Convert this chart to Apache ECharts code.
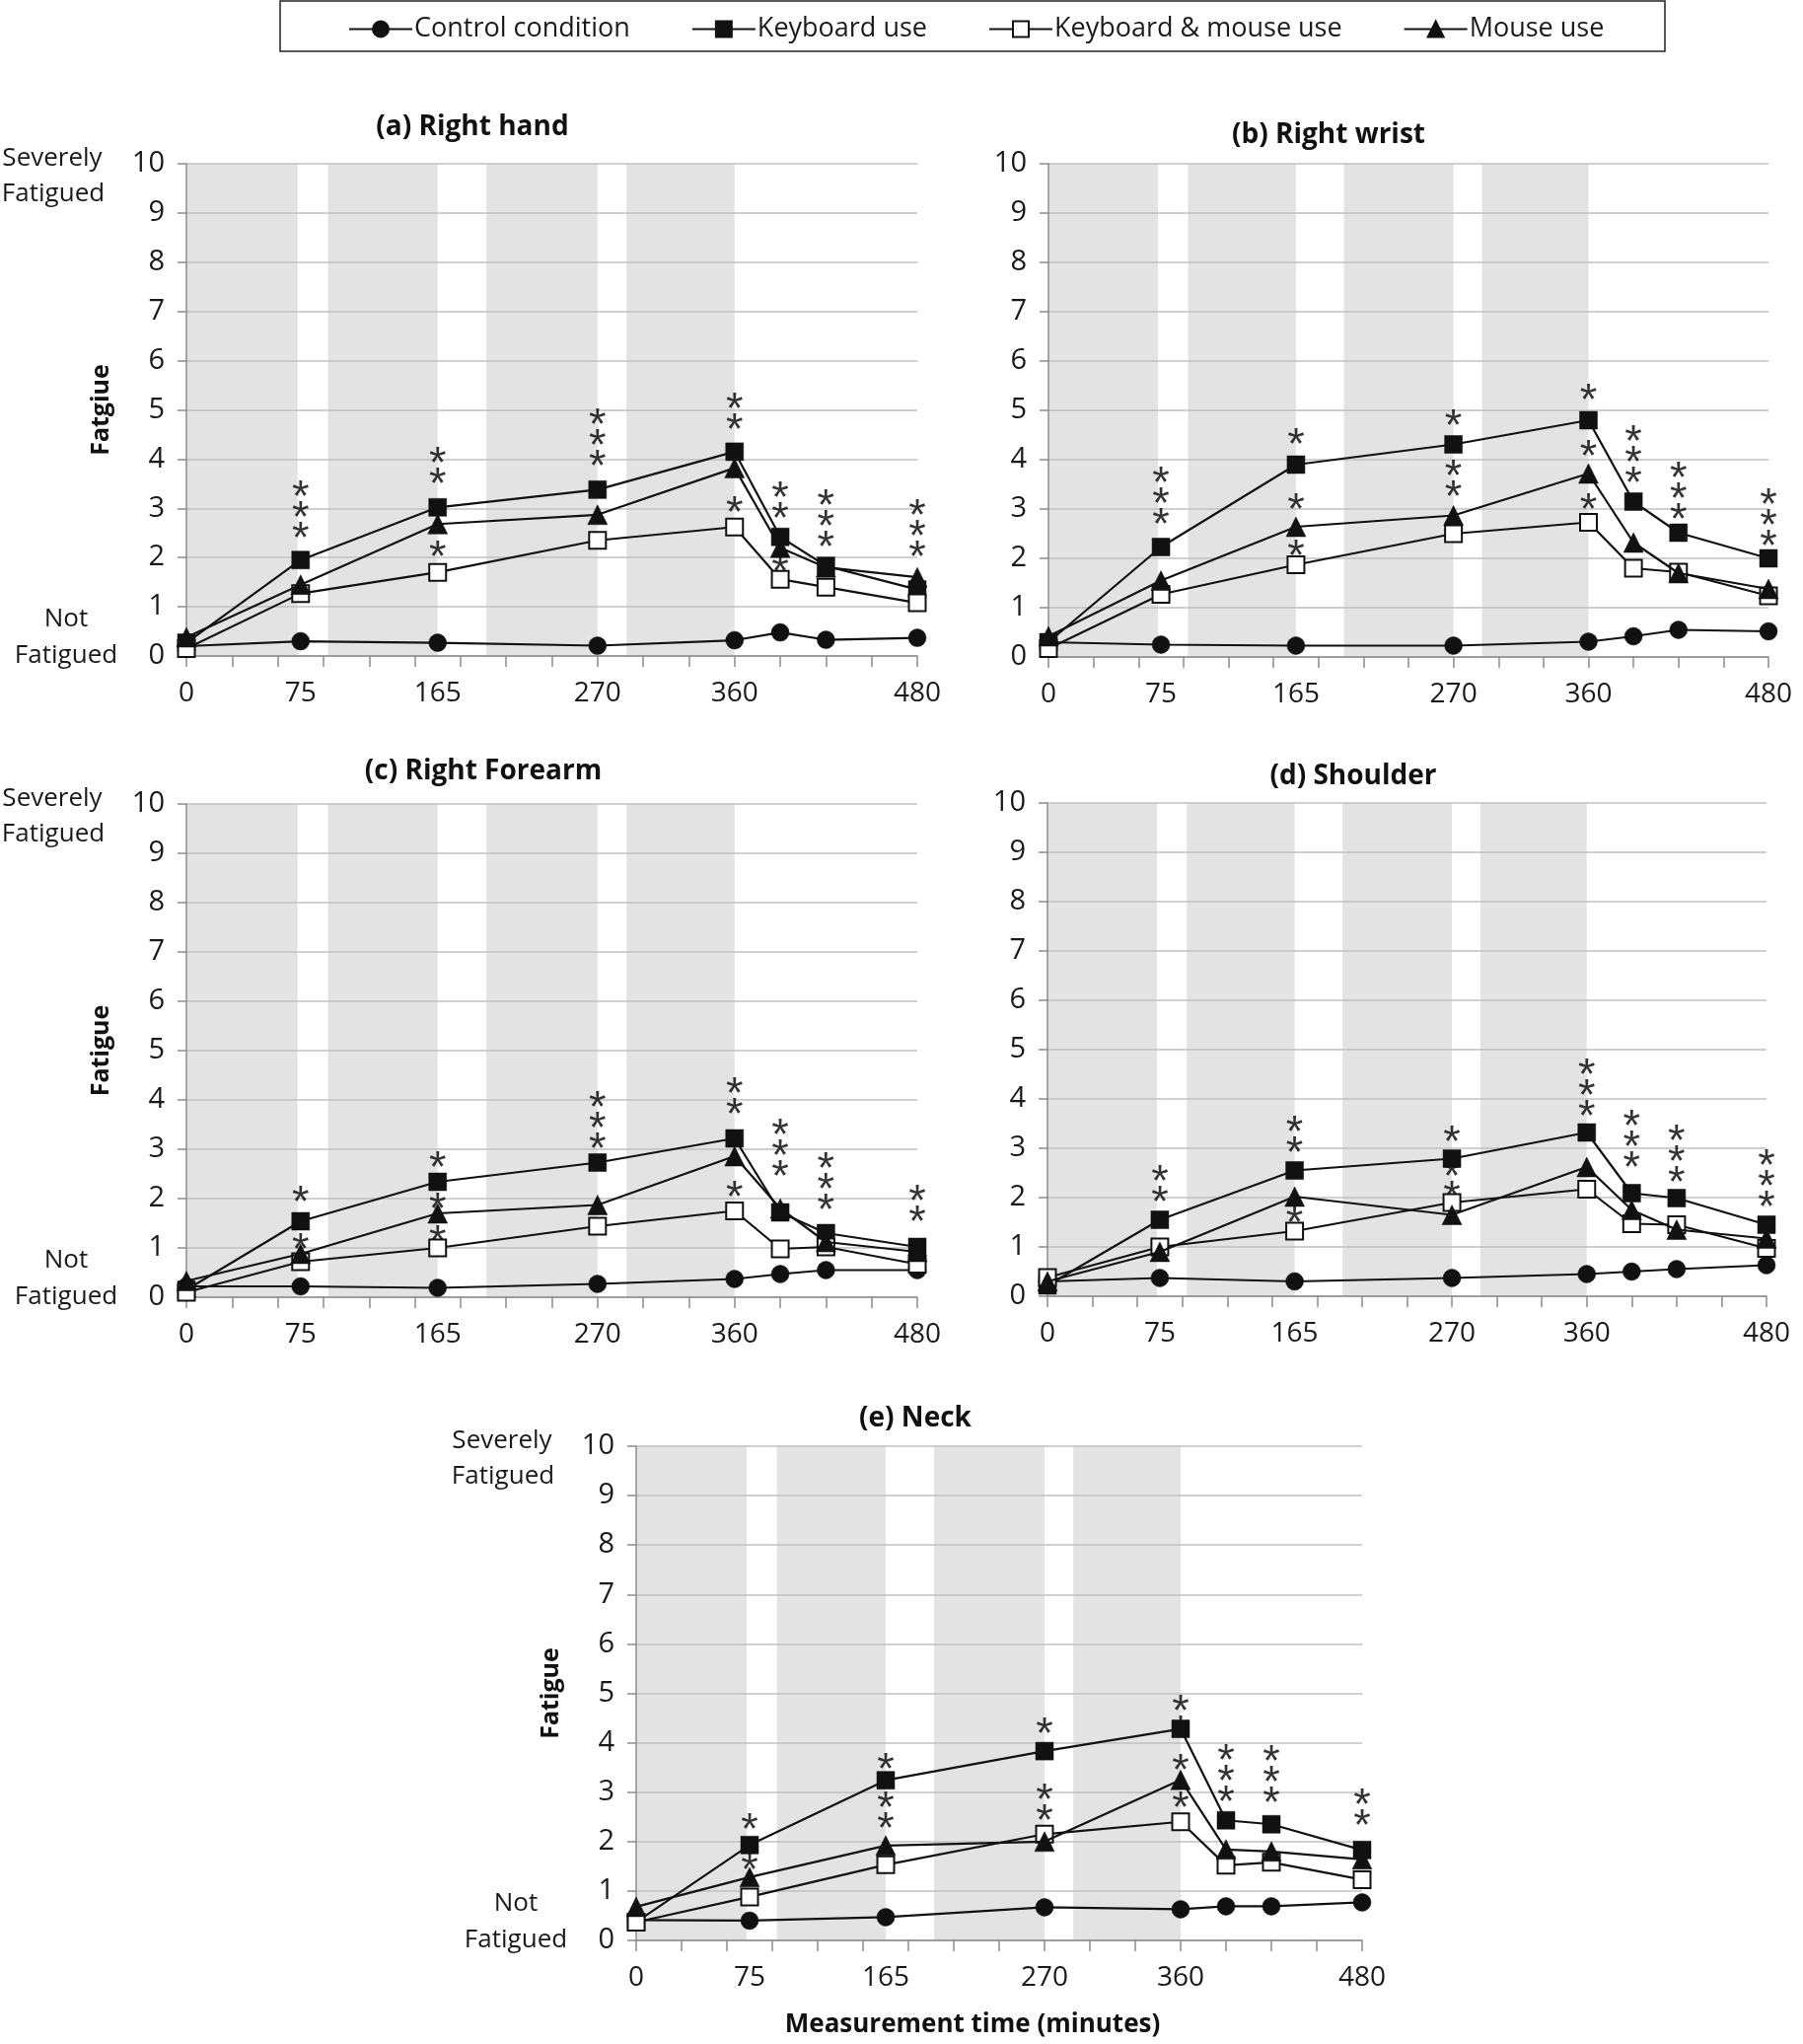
<!DOCTYPE html>
<html><head><meta charset="utf-8">
<script src="https://cdn.jsdelivr.net/npm/echarts@6/dist/echarts.min.js"></script>
<style>html,body{margin:0;padding:0;background:#fff}#c{width:1828px;height:2072px}</style>
</head><body><div id="c"></div>
<script>
// ---- data ----
const times = [0, 75, 165, 270, 360, 390, 420, 480];
const tickLabels = [0, 75, 165, 270, 360, 480];
const workPeriods = [[0, 73], [93, 165], [197, 270], [289, 360]];
const seriesNames = ['Control condition', 'Keyboard use', 'Keyboard & mouse use', 'Mouse use'];

const ctrlA = [0.2, 0.3, 0.27, 0.21, 0.32, 0.48, 0.33, 0.37];
const kbA   = [0.27, 1.95, 3.02, 3.38, 4.15, 2.42, 1.83, 1.35];
const kmA   = [0.15, 1.27, 1.7, 2.35, 2.62, 1.56, 1.4, 1.08];
const msA   = [0.38, 1.45, 2.68, 2.87, 3.82, 2.2, 1.8, 1.6];
const sigA  = [[75, 2.6, 3], [165, 3.7, 2], [165, 2.23, 1], [270, 4.07, 3], [360, 4.8, 2], [360, 3.13, 1], [390, 3.0, 2], [390, 1.93, 1], [420, 2.43, 3], [480, 2.23, 3]];

const ctrlB = [0.3, 0.25, 0.23, 0.23, 0.31, 0.42, 0.55, 0.52];
const kbB   = [0.3, 2.23, 3.9, 4.31, 4.8, 3.15, 2.52, 2.0];
const kmB   = [0.17, 1.27, 1.87, 2.5, 2.73, 1.8, 1.72, 1.24];
const msB   = [0.42, 1.55, 2.64, 2.87, 3.72, 2.32, 1.7, 1.38];
const sigB  = [[75, 2.89, 3], [165, 4.52, 1], [165, 3.19, 1], [165, 2.25, 1], [270, 4.89, 1], [270, 3.45, 2], [360, 5.42, 1], [360, 4.27, 1], [360, 3.2, 1], [390, 3.73, 3], [420, 2.99, 3], [480, 2.45, 3]];

const ctrlC = [0.22, 0.22, 0.19, 0.27, 0.37, 0.47, 0.55, 0.55];
const kbC   = [0.15, 1.54, 2.34, 2.73, 3.22, 1.72, 1.3, 1.02];
const kmC   = [0.1, 0.72, 1.0, 1.44, 1.75, 0.98, 1.02, 0.67];
const msC   = [0.33, 0.88, 1.7, 1.87, 2.86, 1.8, 1.12, 0.92];
const sigC  = [[75, 2.14, 1], [75, 1.18, 1], [165, 2.83, 1], [165, 2.0, 1], [165, 1.34, 1], [270, 3.21, 3], [360, 3.92, 2], [360, 2.24, 1], [390, 2.65, 3], [420, 1.97, 3], [480, 1.74, 2]];

const ctrlD = [0.3, 0.37, 0.3, 0.37, 0.45, 0.5, 0.55, 0.63];
const kbD   = [0.22, 1.55, 2.55, 2.79, 3.32, 2.09, 1.99, 1.45];
const kmD   = [0.38, 1.0, 1.32, 1.9, 2.17, 1.47, 1.45, 0.97];
const msD   = [0.3, 0.9, 2.02, 1.65, 2.62, 1.75, 1.35, 1.17];
const sigD  = [[75, 2.12, 2], [165, 3.12, 2], [165, 1.69, 1], [270, 3.34, 1], [270, 2.22, 2], [360, 3.85, 3], [390, 2.82, 3], [420, 2.52, 3], [480, 2.02, 3]];

const ctrlE = [0.41, 0.4, 0.47, 0.67, 0.63, 0.69, 0.69, 0.77];
const kbE   = [0.37, 1.93, 3.24, 3.83, 4.28, 2.43, 2.35, 1.83];
const kmE   = [0.37, 0.88, 1.53, 2.15, 2.4, 1.52, 1.58, 1.23];
const msE   = [0.68, 1.28, 1.92, 2.0, 3.25, 1.84, 1.8, 1.64];
const sigE  = [[75, 2.45, 1], [75, 1.63, 1], [165, 3.67, 1], [165, 2.48, 2], [270, 4.39, 1], [270, 2.64, 2], [360, 4.42, 2], [360, 3.66, 1], [360, 2.9, 1], [390, 3.01, 3], [420, 3.0, 3], [480, 2.53, 2]];

// ---- layout ----
const FONT = '"Open Sans", "DejaVu Sans", sans-serif';
const panels = [
  {title: '(a) Right hand',    yName: 'Fatgiue', sev: true,  g: {left: 189, top: 166, width: 741, height: 499}, t: [479, 129], d: [ctrlA, kbA, kmA, msA], sig: sigA},
  {title: '(b) Right wrist',   yName: '',        sev: false, g: {left: 1063, top: 166, width: 730, height: 500}, t: [1347, 137], d: [ctrlB, kbB, kmB, msB], sig: sigB},
  {title: '(c) Right Forearm', yName: 'Fatigue', sev: true,  g: {left: 189, top: 815, width: 741, height: 500}, t: [490, 782], d: [ctrlC, kbC, kmC, msC], sig: sigC},
  {title: '(d) Shoulder',      yName: '',        sev: false, g: {left: 1062, top: 814, width: 729, height: 500}, t: [1372, 787], d: [ctrlD, kbD, kmD, msD], sig: sigD},
  {title: '(e) Neck',          yName: 'Fatigue', sev: true,  g: {left: 645, top: 1466, width: 736, height: 501}, t: [928, 1438], d: [ctrlE, kbE, kmE, msE], sig: sigE}
];

const AXIS = '#8c8c8c', GRIDC = '#c0c0c0', SHADE = '#e3e3e3', INK = '#111';
const symbols = [
  {symbol: 'circle', size: 18, fill: INK},
  {symbol: 'rect', size: 18, fill: INK},
  {symbol: 'rect', size: 17, fill: '#fff'},
  {symbol: 'triangle', size: 20, fill: INK}
];

const grid = [], xAxis = [], yAxis = [], series = [], graphic = [];
panels.forEach((p, i) => {
  grid.push(Object.assign({containLabel: false}, p.g));
  xAxis.push({
    gridIndex: i, type: 'value', min: 0, max: 480, interval: 30,
    axisLine: {show: true, onZero: false, lineStyle: {color: AXIS, width: 1.5}},
    axisTick: {show: true, length: 11, lineStyle: {color: AXIS, width: 1.5}},
    splitLine: {show: false},
    axisLabel: {customValues: tickLabels, fontSize: 28, margin: 24, color: '#1a1a1a', fontFamily: FONT}
  });
  yAxis.push({
    gridIndex: i, type: 'value', min: 0, max: 10, interval: 1,
    axisLine: {show: true, lineStyle: {color: AXIS, width: 1.5}},
    axisTick: {show: true, length: 9, lineStyle: {color: AXIS, width: 1.5}},
    splitLine: {show: true, lineStyle: {color: GRIDC, width: 1.5}},
    axisLabel: {fontSize: 29, margin: 22, color: '#1a1a1a', fontFamily: FONT},
    name: p.yName, nameLocation: 'middle', nameRotate: 90, nameGap: 74,
    nameTextStyle: {fontWeight: 'bold', fontSize: 25, fontFamily: FONT, color: INK}
  });
  // significance asterisks
  series.push({
    type: 'scatter', name: 'sig', xAxisIndex: i, yAxisIndex: i, z: 1, silent: true,
    data: p.sig.map(s => [s[0], s[1], s[2]]),
    symbolSize: 1, itemStyle: {color: 'rgba(0,0,0,0)'},
    label: {
      show: true, position: 'inside', verticalAlign: 'bottom', align: 'center',
      formatter: q => Array(q.value[2]).fill('*').join('\n'),
      fontSize: 45, lineHeight: 21, color: '#000', fontFamily: '"Liberation Sans", Arial, sans-serif', offset: [0, 23]
    }
  });
  p.d.forEach((vals, k) => {
    const s = {
      type: 'line', name: seriesNames[k], xAxisIndex: i, yAxisIndex: i,
      data: times.map((t, j) => [t, vals[j]]),
      symbol: symbols[k].symbol, symbolSize: symbols[k].size, showAllSymbol: true,
      itemStyle: {color: symbols[k].fill, borderColor: INK, borderWidth: k === 2 ? 2 : 0.5},
      lineStyle: {color: INK, width: 2.2},
      z: 2 + k, animation: false
    };
    if (k === 0) {
      s.markArea = {
        silent: true, z: -1,
        itemStyle: {color: SHADE},
        data: workPeriods.map(w => [{xAxis: w[0]}, {xAxis: w[1]}])
      };
    }
    series.push(s);
  });
  graphic.push({type: 'text', x: p.t[0], y: p.t[1], style: {text: p.title, font: 'bold 28px ' + FONT, fill: INK, textAlign: 'center', textVerticalAlign: 'middle'}});
  if (p.sev) {
    const L = p.g.left, T = p.g.top, B = p.g.top + p.g.height;
    const st = (txt, x, y) => ({type: 'text', x: x, y: y, style: {text: txt, font: '26px ' + FONT, fill: '#1a1a1a', textAlign: 'center', textVerticalAlign: 'middle'}});
    graphic.push(st('Severely', L - 136, T - 5));
    graphic.push(st('Fatigued', L - 135, T + 31));
    graphic.push(st('Not', L - 122, B - 37));
    graphic.push(st('Fatigued', L - 122, B));
  }
});
graphic.push({type: 'text', x: 986, y: 2053, style: {text: 'Measurement time (minutes)', font: 'bold 26px ' + FONT, fill: INK, textAlign: 'center', textVerticalAlign: 'middle'}});
graphic.push({type: 'rect', shape: {x: 284, y: 1, width: 1404, height: 51}, style: {fill: 'none', stroke: '#222', lineWidth: 1.5}, z: -10});

const chart = echarts.init(document.getElementById('c'), null, {renderer: 'canvas'});
chart.setOption({
  backgroundColor: '#fff',
  animation: false,
  legend: {
    data: seriesNames, left: 348, top: 11, itemWidth: 64, itemHeight: 20, itemGap: 62,
    textStyle: {fontSize: 27, color: '#1a1a1a', fontFamily: FONT, padding: [0, 0, 0, -3]},
    selectedMode: false
  },
  grid, xAxis, yAxis, series, graphic
});
</script></body></html>
